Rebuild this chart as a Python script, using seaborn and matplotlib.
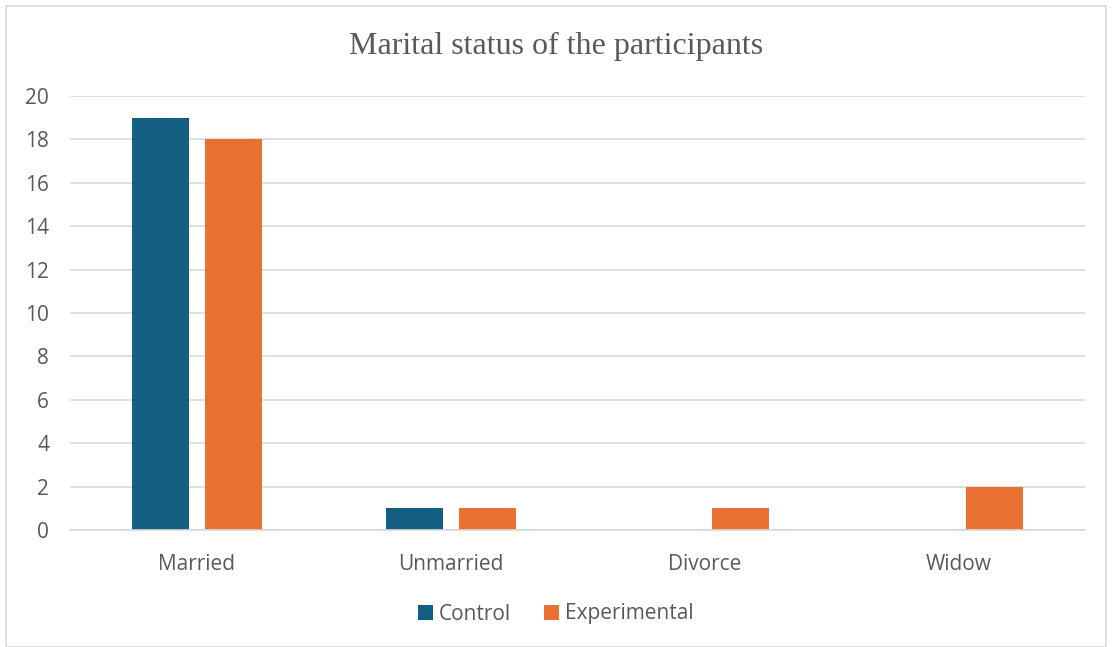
import matplotlib
matplotlib.use("Agg")
import matplotlib.pyplot as plt
import seaborn as sns
import pandas as pd
from matplotlib.patches import Rectangle

categories = ["Married", "Unmarried", "Divorce", "Widow"]
control = [19, 1, 0, 0]
experimental = [18, 1, 1, 2]
series_names = ["Control", "Experimental"]
yticks = [0, 2, 4, 6, 8, 10, 12, 14, 16, 18, 20]

df = pd.DataFrame({
    "category": categories * 2,
    "value": control + experimental,
    "group": [series_names[0]] * len(categories) + [series_names[1]] * len(categories),
})

sns.set_theme(style="white")
plt.rcParams["font.family"] = ["Open Sans", "DejaVu Sans"]

fig = plt.figure(figsize=(11.12, 6.47), dpi=100)
ax = fig.add_axes([70 / 1112, 1 - 530 / 647, (1085 - 70) / 1112, (530 - 96) / 647])

palette = {"Control": "#156082", "Experimental": "#E97132"}
sns.barplot(data=df, x="category", y="value", hue="group", palette=palette,
            width=0.575, gap=0.22, ax=ax, saturation=1, legend=True, linewidth=0)

ax.set_ylim(0, 20)
ax.set_xlim(-0.5, 3.5)
ax.set_yticks(yticks)
ax.yaxis.grid(True, color="#d9d9d9", linewidth=1.2)
ax.set_axisbelow(True)
for s in ["left", "right", "top"]:
    ax.spines[s].set_visible(False)
ax.spines["bottom"].set_color("#d9d9d9")
ax.spines["bottom"].set_linewidth(1.2)
ax.tick_params(axis="both", length=0, labelsize=15, labelcolor="#595959")
ax.tick_params(axis="x", pad=17)
ax.tick_params(axis="y", pad=15)
ax.set_xlabel("")
ax.set_ylabel("")

fig.text(0.5, 1 - 46 / 647, "Marital status of the participants", ha="center", va="center",
         fontsize=23, color="#595959", family=["Liberation Serif", "DejaVu Serif"])

handles, labels = ax.get_legend_handles_labels()
ax.legend_.remove()
fig.legend(handles, labels, loc="center", bbox_to_anchor=(0.5, 1 - 614 / 647), ncol=2,
           frameon=False, fontsize=15, labelcolor="#595959", handlelength=0.7, handleheight=0.7,
           handletextpad=0.3, columnspacing=1.6)

fig.patches.append(Rectangle((6 / 1112, 0), 1100 / 1112, 1 - 6 / 647, transform=fig.transFigure,
                             fill=False, edgecolor="#d9d9d9", linewidth=1.2))

fig.savefig("out.png", dpi=100)
